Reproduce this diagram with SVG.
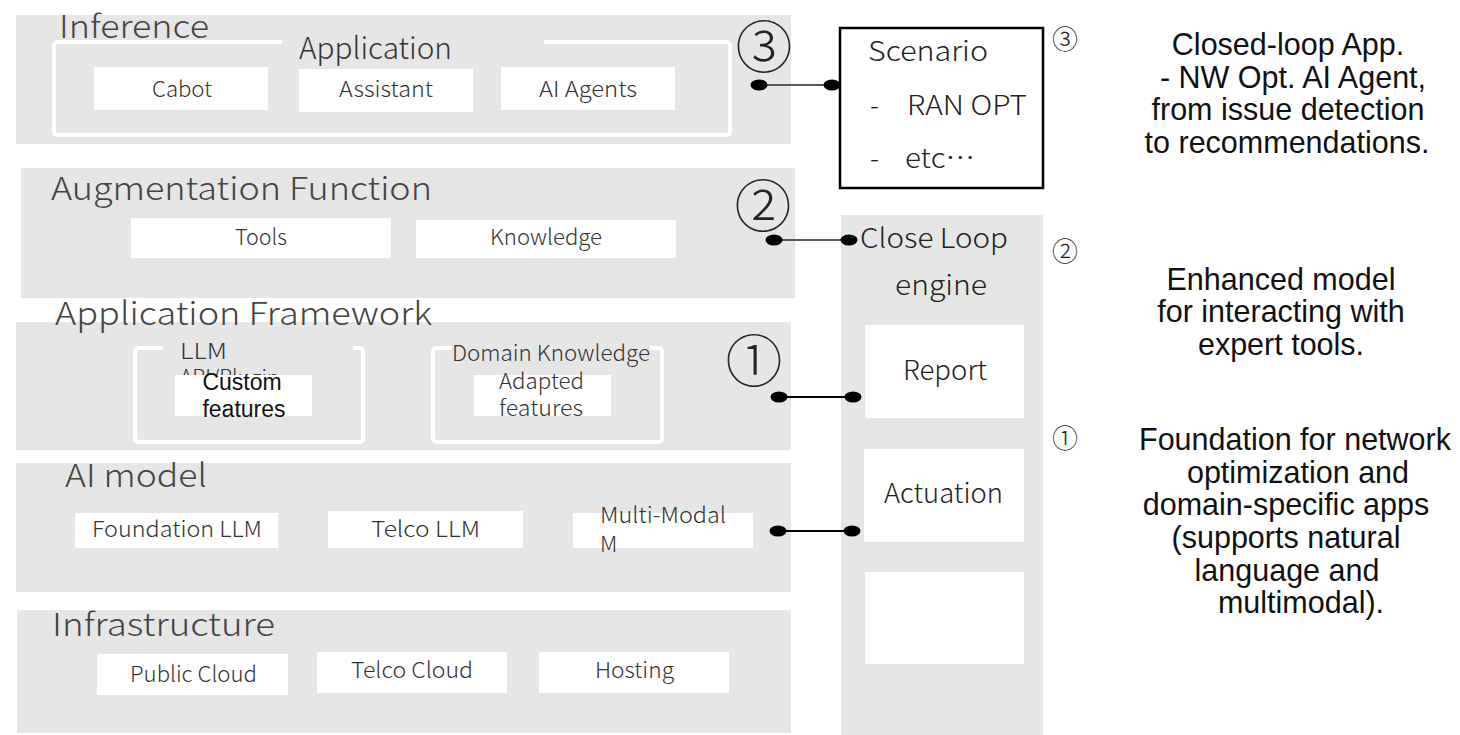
<svg xmlns="http://www.w3.org/2000/svg" width="1460" height="735" viewBox="0 0 1460 735">
<style>
.layer{fill:#e7e6e6}
.box{fill:#ffffff}
.frame{fill:none;stroke:#ffffff;stroke-width:4;stroke-linejoin:round}
.jp{font-family:"Noto Sans CJK JP","Noto Sans",sans-serif;font-weight:300;fill:#333333}
.title{font-size:32px;fill:#444444}
.lbl{font-size:22px}
.mid{font-size:27px;fill:#222222}
.ar{font-family:"Liberation Sans",Arial,sans-serif;fill:#111111}
.note{font-size:30.5px;text-anchor:middle}
.cn{font-family:"Noto Sans CJK JP",sans-serif;font-weight:300;fill:#222222;text-anchor:middle}
.big{font-size:57px}
.small{font-size:26px}
.con{fill:none;stroke-width:2}
</style>
<defs>
<marker id="dot" viewBox="-10 -7 20 14" markerWidth="20" markerHeight="14" refX="0" refY="0" markerUnits="userSpaceOnUse" orient="auto">
<ellipse cx="0" cy="0" rx="8.5" ry="5.5" fill="#000000"/>
</marker>
</defs>

<g id="inference">
<rect class="layer" x="16" y="15" width="775" height="129"/>
<text class="jp title" x="59" y="38" textLength="150" lengthAdjust="spacingAndGlyphs">Inference</text>
<path class="frame" d="M282,42 H58 Q54,42 54,46 V131 Q54,135 58,135 H726 Q730,135 730,131 V46 Q730,42 726,42 H544"/>
<text class="jp" style="font-size:30px;fill:#333" x="299" y="59" textLength="153" lengthAdjust="spacingAndGlyphs">Application</text>
<g id="cabot"><rect class="box" x="94" y="67" width="174" height="43"/><text class="jp lbl" x="152" y="97" textLength="60" lengthAdjust="spacingAndGlyphs">Cabot</text></g>
<g id="assistant"><rect class="box" x="299" y="69" width="174" height="43"/><text class="jp lbl" x="339" y="97" textLength="94" lengthAdjust="spacingAndGlyphs">Assistant</text></g>
<g id="ai-agents"><rect class="box" x="501" y="67" width="174" height="43"/><text class="jp lbl" x="539" y="97" textLength="98" lengthAdjust="spacingAndGlyphs">AI Agents</text></g>
<text class="cn big" x="764" y="68">③</text>
</g>

<g id="augmentation">
<rect class="layer" x="21" y="168" width="774" height="130"/>
<text class="jp title" x="51" y="200" textLength="381" lengthAdjust="spacingAndGlyphs">Augmentation Function</text>
<g id="tools"><rect class="box" x="131" y="218" width="260" height="40"/><text class="jp lbl" x="235" y="245" textLength="52" lengthAdjust="spacingAndGlyphs">Tools</text></g>
<g id="knowledge"><rect class="box" x="416" y="220" width="260" height="38"/><text class="jp lbl" x="490" y="245" textLength="112" lengthAdjust="spacingAndGlyphs">Knowledge</text></g>
<text class="cn big" x="763" y="227">②</text>
</g>

<g id="app-framework">
<rect class="layer" x="16" y="322" width="775" height="128"/>
<text class="jp title" x="55" y="325" textLength="377" lengthAdjust="spacingAndGlyphs">Application Framework</text>
<g id="llm-api">
<path class="frame" d="M163,348 H139 Q135,348 135,352 V438 Q135,442 139,442 H359 Q363,442 363,438 V352 Q363,348 359,348 H353"/>
<text class="jp lbl" x="180" y="359" textLength="47" lengthAdjust="spacingAndGlyphs">LLM</text>
<text class="jp lbl" x="180" y="385" style="font-size:21px">API/Plugin</text>
<rect class="box" x="175" y="375" width="137" height="41"/>
<text class="ar" style="font-size:23px" x="242" y="390" text-anchor="middle">Custom</text>
<text class="ar" style="font-size:23px" x="244" y="417" text-anchor="middle">features</text>
</g>
<g id="domain-knowledge">
<path class="frame" d="M452,348 H437 Q433,348 433,352 V438 Q433,442 437,442 H658 Q662,442 662,438 V352 Q662,348 658,348 H650"/>
<text class="jp lbl" x="452" y="361" textLength="198" lengthAdjust="spacingAndGlyphs">Domain Knowledge</text>
<rect class="box" x="474" y="375" width="137" height="41"/>
<text class="jp lbl" x="499" y="389" textLength="85" lengthAdjust="spacingAndGlyphs">Adapted</text>
<text class="jp lbl" x="499" y="416" textLength="84" lengthAdjust="spacingAndGlyphs">features</text>
</g>
<text class="cn big" x="754" y="382">①</text>
</g>

<g id="ai-model">
<rect class="layer" x="16" y="463" width="775" height="129"/>
<text class="jp title" x="65" y="487" textLength="142" lengthAdjust="spacingAndGlyphs">AI model</text>
<g id="foundation-llm"><rect class="box" x="75" y="513" width="203" height="35"/><text class="jp lbl" x="92" y="537" textLength="170" lengthAdjust="spacingAndGlyphs">Foundation LLM</text></g>
<g id="telco-llm"><rect class="box" x="328" y="511" width="195" height="37"/><text class="jp lbl" x="371" y="537" textLength="109" lengthAdjust="spacingAndGlyphs">Telco LLM</text></g>
<g id="multi-modal"><rect class="box" x="573" y="513" width="180" height="35"/><text class="jp lbl" x="600" y="523" textLength="126" lengthAdjust="spacingAndGlyphs">Multi-Modal</text><text class="jp lbl" x="600" y="552">M</text></g>
</g>

<g id="infrastructure">
<rect class="layer" x="17" y="610" width="774" height="123"/>
<text class="jp title" x="52" y="636" textLength="223" lengthAdjust="spacingAndGlyphs">Infrastructure</text>
<g id="public-cloud"><rect class="box" x="97" y="654" width="191" height="41"/><text class="jp lbl" x="130" y="682" textLength="127" lengthAdjust="spacingAndGlyphs">Public Cloud</text></g>
<g id="telco-cloud"><rect class="box" x="317" y="652" width="190" height="41"/><text class="jp lbl" x="351" y="678" textLength="122" lengthAdjust="spacingAndGlyphs">Telco Cloud</text></g>
<g id="hosting"><rect class="box" x="539" y="652" width="190" height="41"/><text class="jp lbl" x="595" y="678" textLength="79" lengthAdjust="spacingAndGlyphs">Hosting</text></g>
</g>

<g id="scenario">
<rect x="840" y="28" width="203" height="160" fill="#ffffff" stroke="#000000" stroke-width="2.5"/>
<text class="jp mid" x="868" y="61" textLength="120" lengthAdjust="spacingAndGlyphs">Scenario</text>
<text class="jp mid" x="870" y="115">-</text>
<text class="jp mid" x="907" y="115" textLength="120" lengthAdjust="spacingAndGlyphs">RAN OPT</text>
<text class="jp mid" x="870" y="168">-</text>
<text class="jp mid" x="905" y="168" xml:lang="ja" textLength="70" lengthAdjust="spacingAndGlyphs">etc…</text>
</g>

<g id="close-loop-engine">
<rect class="layer" x="841" y="215" width="202" height="520"/>
<text class="jp mid" x="860" y="248" textLength="148" lengthAdjust="spacingAndGlyphs">Close Loop</text>
<text class="jp mid" x="895" y="295" textLength="92" lengthAdjust="spacingAndGlyphs">engine</text>
<g id="report"><rect class="box" x="865" y="325" width="159" height="93"/><text class="jp mid" x="903" y="380" textLength="84" lengthAdjust="spacingAndGlyphs">Report</text></g>
<g id="actuation"><rect class="box" x="864" y="449" width="160" height="93"/><text class="jp mid" x="884" y="503" textLength="119" lengthAdjust="spacingAndGlyphs">Actuation</text></g>
<g id="empty-slot"><rect class="box" x="865" y="572" width="159" height="92"/></g>
</g>

<g id="note-3">
<text class="cn small" x="1065" y="49">③</text>
<text class="ar note" x="1288" y="55">Closed-loop App.</text>
<text class="ar note" x="1293" y="88">- NW Opt. AI Agent,</text>
<text class="ar note" x="1288" y="120">from issue detection</text>
<text class="ar note" x="1287" y="153">to recommendations.</text>
</g>
<g id="note-2">
<text class="cn small" x="1065" y="261">②</text>
<text class="ar note" x="1281" y="290">Enhanced model</text>
<text class="ar note" x="1281" y="322">for interacting with</text>
<text class="ar note" x="1281" y="355">expert tools.</text>
</g>
<g id="note-1">
<text class="cn small" x="1065" y="448">①</text>
<text class="ar note" x="1295" y="450">Foundation for network</text>
<text class="ar note" x="1298" y="483">optimization and</text>
<text class="ar note" x="1286" y="515">domain-specific apps</text>
<text class="ar note" x="1286" y="548">(supports natural</text>
<text class="ar note" x="1287" y="581">language and</text>
<text class="ar note" x="1301" y="613">multimodal).</text>
</g>

<g id="connectors">
<line class="con" x1="759" y1="85" x2="832" y2="85" stroke="#595959" marker-start="url(#dot)" marker-end="url(#dot)"/>
<line class="con" x1="774" y1="240" x2="849" y2="240" stroke="#595959" marker-start="url(#dot)" marker-end="url(#dot)"/>
<line class="con" x1="779" y1="397" x2="853" y2="397" stroke="#000000" stroke-width="1.5" marker-start="url(#dot)" marker-end="url(#dot)"/>
<line class="con" x1="778" y1="531" x2="852" y2="531" stroke="#000000" stroke-width="1.5" marker-start="url(#dot)" marker-end="url(#dot)"/>
</g>
</svg>
